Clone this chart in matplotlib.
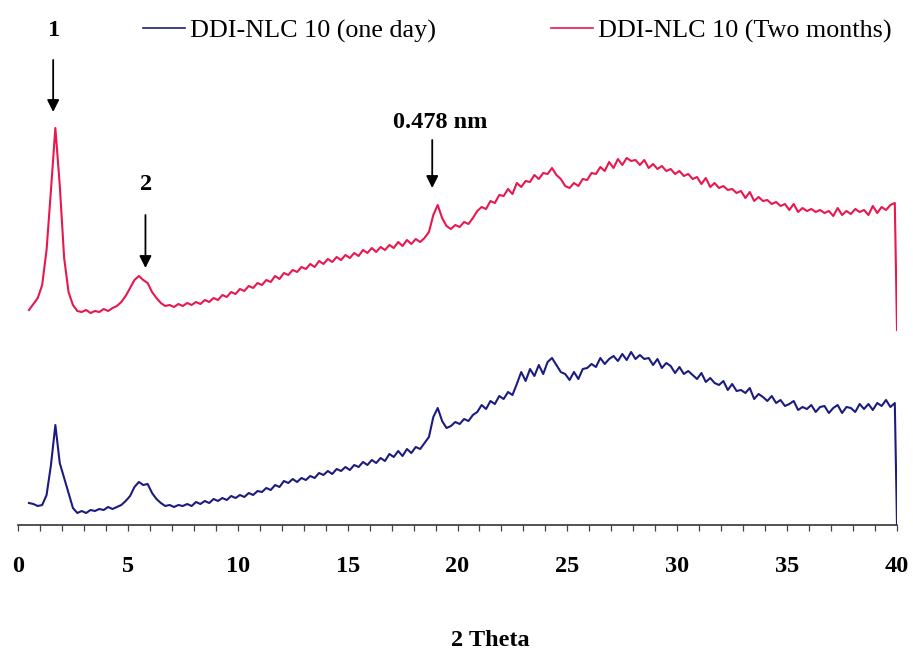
import numpy as np
import matplotlib
matplotlib.use("Agg")
import matplotlib.pyplot as plt

# Scan positions (2θ, degrees): 0.2° steps, then the closing point at 40°
two_theta = np.append(np.round(np.arange(0.5, 39.95, 0.2), 1), 40.0)

# Intensity (arbitrary units) – DDI-NLC 10 after one day
one_day = [
    22, 21, 19, 20, 30, 60, 100, 62, 47, 32,
    17, 12, 14, 12, 15, 14, 16, 15, 18, 16,
    18, 20, 24, 29, 38, 43, 40, 41, 32, 26,
    22, 19, 20, 18, 20, 19, 21, 19, 23, 21,
    24, 22, 26, 24, 27, 25, 29, 27, 30, 28,
    32, 30, 34, 33, 37, 35, 40, 38, 44, 42,
    46, 43, 47, 45, 49, 47, 52, 50, 54, 51,
    56, 54, 58, 55, 60, 58, 63, 60, 65, 62,
    67, 64, 71, 68, 74, 69, 76, 72, 78, 76,
    82, 88, 108, 117, 104, 97, 99, 103, 101, 106,
    104, 110, 113, 120, 116, 124, 121, 129, 126, 133,
    130, 141, 153, 144, 156, 149, 160, 151, 163, 167,
    160, 153, 151, 145, 153, 146, 156, 157, 161, 158,
    167, 161, 166, 169, 164, 171, 165, 173, 166, 170,
    166, 167, 160, 166, 157, 162, 159, 152, 158, 151,
    154, 150, 146, 152, 143, 147, 142, 140, 144, 135,
    141, 134, 135, 132, 137, 126, 131, 128, 124, 129,
    122, 125, 119, 121, 124, 115, 118, 116, 120, 113,
    118, 119, 112, 117, 120, 112, 118, 117, 113, 121,
    116, 121, 115, 122, 119, 125, 118, 122, 0,
]

# Intensity (arbitrary units) – DDI-NLC 10 after two months
two_months = [
    20, 26, 32, 45, 80, 140, 202, 145, 72, 38,
    25, 19, 18, 20, 17, 19, 18, 21, 19, 22,
    24, 28, 34, 42, 50, 54, 50, 47, 38, 32,
    27, 24, 25, 23, 26, 24, 27, 25, 28, 26,
    30, 28, 32, 30, 35, 33, 38, 36, 41, 39,
    44, 42, 47, 45, 50, 48, 54, 51, 57, 55,
    60, 58, 63, 61, 66, 63, 69, 66, 71, 68,
    73, 70, 75, 72, 77, 74, 80, 77, 82, 78,
    83, 80, 85, 82, 88, 84, 90, 86, 91, 88,
    92, 98, 115, 125, 112, 104, 101, 105, 103, 108,
    106, 112, 119, 123, 121, 129, 127, 135, 134, 141,
    136, 147, 143, 149, 148, 155, 151, 157, 156, 162,
    155, 151, 144, 142, 147, 144, 151, 150, 157, 156,
    163, 159, 168, 162, 171, 165, 172, 169, 170, 165,
    170, 162, 166, 161, 164, 159, 161, 156, 159, 154,
    156, 151, 153, 146, 152, 143, 147, 142, 144, 140,
    141, 137, 139, 132, 138, 129, 133, 129, 130, 126,
    128, 124, 126, 120, 126, 118, 122, 119, 121, 118,
    120, 117, 119, 114, 122, 115, 119, 116, 121, 118,
    120, 115, 124, 117, 123, 120, 125, 127, 0,
]

labels = ["DDI-NLC 10 (one day)", "DDI-NLC 10 (Two months)"]
colors = ["#1c1c80", "#e8174d"]
offsets = [0, 195]          # vertical stacking of the two patterns

serif = ["Liberation Serif", "DejaVu Serif"]

W, H = 913, 653
fig = plt.figure(figsize=(W / 100, H / 100), dpi=100)
ax = fig.add_axes([18 / W, 1 - 525 / H, 879 / W, 525 / H])

for ys, lab, col, off in zip([one_day, two_months], labels, colors, offsets):
    ax.plot(two_theta, np.asarray(ys) + off, color=col, lw=1.5, label=lab)

ax.set_xlim(0, 40)
ax.set_ylim(0, 525)
for side in ("left", "right", "top"):
    ax.spines[side].set_visible(False)
ax.spines["bottom"].set_color("#333333")
ax.spines["bottom"].set_linewidth(1.2)
ax.set_yticks([])
ax.set_xticks(np.arange(0, 41, 5))
ax.set_xticks(np.arange(0, 41, 1), minor=True)
ax.tick_params(axis="x", which="both", direction="out", length=4, width=0.9,
               color="#444444")
ax.tick_params(axis="x", which="major", pad=18)
for t in ax.get_xticklabels():
    t.set_fontfamily(serif)
    t.set_fontweight("bold")
    t.set_fontsize(17.5)

fig.text(490 / W, 1 - 640 / H, "2 Theta", ha="center", va="center",
         fontfamily=serif, fontweight="bold", fontsize=17.5)

# Peak markers
arrow = dict(arrowstyle="-|>", color="black", lw=1.3, mutation_scale=18,
             shrinkA=0, shrinkB=0)
marks = [("1", 1.6, 495, 465, 413),
         ("2", 5.8, 340, 310, 257),
         ("0.478 nm", 18.85, 403, 385, 337)]
for text, x, ty, tail, tip in marks:
    dx = 0.35 if text == "0.478 nm" else 0.05
    ax.text(x + dx, ty, text, ha="center", va="center", fontfamily=serif,
            fontweight="bold", fontsize=17.5)
    ax.annotate("", xy=(x, tip), xytext=(x, tail), arrowprops=arrow)

leg = ax.legend(loc="upper left", bbox_to_anchor=(143 / W, 1 - 19 / H),
                bbox_transform=fig.transFigure, ncol=2, frameon=False,
                prop={"family": serif, "size": 18.8}, handlelength=1.6,
                handletextpad=0.2, columnspacing=4.4, borderpad=0,
                borderaxespad=0)
for line in leg.get_lines():
    line.set_linewidth(1.2)

fig.savefig("out.png", dpi=100)
